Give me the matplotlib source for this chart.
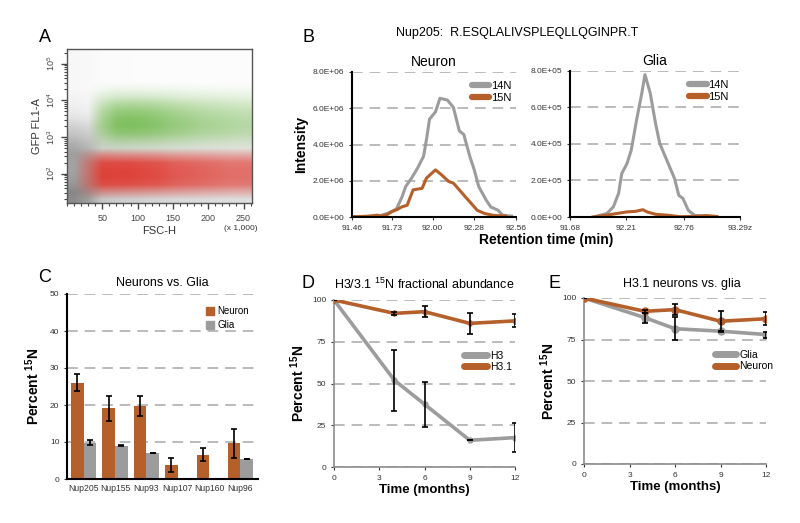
import numpy as np
import matplotlib.pyplot as plt
from matplotlib.lines import Line2D
from matplotlib.patches import Patch

plt.rcParams['font.family'] = ['Liberation Sans', 'DejaVu Sans']
plt.rcParams['mathtext.fontset'] = 'custom'
plt.rcParams['mathtext.rm'] = 'Liberation Sans'
plt.rcParams['mathtext.bf'] = 'Liberation Sans:bold'

ORANGE = '#b5602b'
GREY = '#9c9c9c'
GRIDC = '#a8a8a8'
TICKC = '#333333'

# ---------------- A: FACS density, profiles read per gate ----------------
fsc_centers = [10, 30, 50, 70, 90, 110, 130, 150, 170, 190, 210, 230, 250]
gfp_centers = [1.3, 1.5, 1.7, 1.9, 2.1, 2.3, 2.5, 2.7, 2.9, 3.1, 3.3,
               3.5, 3.7, 3.9, 4.1, 4.3, 4.5, 4.7, 4.9, 5.1, 5.3]
gray_fsc = [1.0, 0.75, 0.3, 0.25, 0.22, 0.2, 0.18, 0.16, 0.15, 0.14, 0.13, 0.12, 0.12]
gray_gfp = [0.95, 1.0, 0.8, 0.7, 0.65, 0.65, 0.7, 0.6, 0.45, 0.3, 0.2,
            0.1, 0.05, 0.03, 0.02, 0.01, 0.01, 0.01, 0.01, 0.01, 0.01]
red_fsc = [0.0, 0.35, 1.0, 1.0, 1.0, 0.95, 0.9, 0.8, 0.75, 0.7, 0.65, 0.6, 0.6]
red_gfp = [0.0, 0.25, 0.85, 1.0, 1.0, 0.9, 0.35, 0, 0, 0, 0,
           0, 0, 0, 0, 0, 0, 0, 0, 0, 0]
green_fsc = [0.0, 0.0, 0.5, 0.95, 1.0, 0.95, 0.85, 0.7, 0.6, 0.5, 0.45, 0.4, 0.35]
green_gfp = [0, 0, 0, 0, 0, 0, 0, 0.05, 0.3, 0.75, 1.0,
             0.95, 0.75, 0.45, 0.15, 0.03, 0, 0, 0, 0, 0]

# ---------------- B: extracted ion chromatograms ----------------
neuron_t14 = [91.46, 91.55, 91.65, 91.72, 91.76, 91.795, 91.82, 91.86, 91.90, 91.94,
              91.96, 91.98, 92.02, 92.05, 92.10, 92.14, 92.18, 92.21, 92.25, 92.28,
              92.31, 92.36, 92.39, 92.44, 92.47, 92.53]
neuron_14n = [0.0, 0.02, 0.08, 0.25, 0.47, 1.1, 1.68, 2.15, 2.7, 3.35,
              4.3, 5.4, 5.8, 6.55, 6.45, 6.05, 4.75, 4.55, 3.35, 2.6,
              1.68, 0.93, 0.56, 0.37, 0.1, 0.05]  # x1e6
neuron_t15 = [91.46, 91.52, 91.58, 91.63, 91.66, 91.70, 91.72, 91.76, 91.795, 91.83,
              91.87, 91.93, 91.96, 92.02, 92.06, 92.11, 92.14, 92.19, 92.24, 92.25,
              92.30, 92.35, 92.41, 92.49]
neuron_15n = [0.02, 0.03, 0.05, 0.1, 0.05, 0.15, 0.28, 0.4, 0.56, 0.65,
              1.5, 1.58, 2.15, 2.6, 2.33, 1.95, 1.87, 1.4, 0.93, 0.84,
              0.37, 0.19, 0.09, 0.05]  # x1e6
glia_t14 = [91.90, 92.03, 92.09, 92.14, 92.17, 92.22, 92.26, 92.31, 92.36, 92.39,
            92.44, 92.49, 92.53, 92.61, 92.67, 92.71, 92.75, 92.80, 92.86, 92.97, 93.07]
glia_14n = [0.0, 0.19, 0.55, 1.29, 2.38, 2.93, 3.66, 5.3, 6.78, 7.8,
            6.78, 5.13, 4.03, 2.93, 2.11, 1.19, 1.01, 0.37, 0.09, 0.02, 0.0]  # x1e5
glia_t15 = [91.90, 92.03, 92.12, 92.22, 92.30, 92.37, 92.41, 92.49, 92.60, 92.72,
            92.85, 92.97, 93.07]
glia_15n = [0.0, 0.1, 0.19, 0.28, 0.31, 0.4, 0.28, 0.15, 0.1, 0.02, 0.03, 0.08, 0.03]  # x1e5

neuron_xticks = [91.46, 91.73, 92.00, 92.28, 92.56]
glia_xticks = [91.68, 92.21, 92.76, 93.29]
glia_xlabels = ['91.68', '92.21', '92.76', '93.29z']

# ---------------- C: Nups, neurons vs glia ----------------
nups = ['Nup205', 'Nup155', 'Nup93', 'Nup107', 'Nup160', 'Nup96']
neuron_pct = [26.0, 19.1, 19.8, 3.8, 6.6, 9.6]
neuron_err = [2.3, 3.4, 2.7, 1.8, 1.7, 3.8]
glia_pct = [9.8, 9.0, 7.0, np.nan, np.nan, 5.4]
glia_err = [0.7, 0.15, 0.1, np.nan, np.nan, 0.1]

# ---------------- D / E: time courses ----------------
h31_months = [0, 4, 6, 9, 12]
h31_pct = [100, 92, 93, 86, 87.5]
h31_err = [0, 1.0, 3.2, 6.2, 3.9]
h3_months = [0, 4, 6, 9, 12]
h3_pct = [100, 52, 37.6, 16, 17.6]
h3_err = [0, 18.2, 13.5, 0, 8.7]
glia_months = [0, 4, 6, 9, 12]
glia_h31_pct = [100, 88.2, 81.5, 80, 78]
glia_h31_err = [0, 3.0, 7.0, 0, 1.8]

W, H = 800, 523
fig = plt.figure(figsize=(W / 100, H / 100), dpi=100)


def add_ax(x0, y0, x1, y1):
    return fig.add_axes([x0 / W, 1 - y1 / H, (x1 - x0) / W, (y1 - y0) / H])


def ftext(x, y, s, **kw):
    fig.text(x / W, 1 - y / H, s, **kw)


def style_plain(ax, spine_color='black', lw=1.5):
    for s in ['top', 'right']:
        ax.spines[s].set_visible(False)
    for s in ['left', 'bottom']:
        ax.spines[s].set_color(spine_color)
        ax.spines[s].set_linewidth(lw)
    ax.tick_params(labelsize=6, colors=TICKC, length=2, width=0.8)
    ax.yaxis.grid(True, color=GRIDC, ls=(0, (7, 4.5)), lw=1.1)
    ax.set_axisbelow(True)


# ---- panel A
axA = add_ax(67, 49, 252, 203)
dens = np.ones((len(gfp_centers), len(fsc_centers), 3))
layers = [(gray_gfp, gray_fsc, (0.48, 0.48, 0.48), 0.9),
          (red_gfp, red_fsc, (0.88, 0.12, 0.08), 0.8),
          (green_gfp, green_fsc, (0.38, 0.70, 0.22), 0.78)]
for gy, gx, col, amax in layers:
    d = np.outer(gy, gx)
    a = (np.clip(d, 0, 1) ** 0.6 * amax)[:, :, None]
    dens = dens * (1 - a) + np.array(col) * a
axA.imshow(dens, origin='lower', aspect='auto', interpolation='bilinear',
           extent=(0, 262, 1.2, 5.4))
axA.set_xlim(0, 262)
axA.set_ylim(1.2, 5.4)
axA.set_xticks([50, 100, 150, 200, 250])
axA.set_xticks(np.arange(0, 261, 10), minor=True)
axA.set_yticks([2, 3, 4, 5])
axA.set_yticklabels([r'$10^{%d}$' % k for k in [2, 3, 4, 5]], rotation=90, va='center')
yminor = [np.log10(m * 10.0 ** e) for e in range(1, 6) for m in range(2, 10)]
axA.set_yticks([v for v in yminor if 1.2 <= v <= 5.4], minor=True)
axA.tick_params(which='both', direction='out', labelsize=6.5, colors='#444444')
axA.tick_params(which='major', length=4, width=1)
axA.tick_params(which='minor', length=2.5, width=0.8)
axA.tick_params(axis='x', which='major', pad=4)
for s in axA.spines.values():
    s.set_color('#555555')
    s.set_linewidth(1)
axA.set_xlabel('FSC-H', fontsize=8, color='#333333', labelpad=2)
axA.set_ylabel('GFP FL1-A', fontsize=8, color='#333333', labelpad=2)
ftext(241, 229, '(x 1,000)', fontsize=6, color='#333333', ha='center', va='center')
ftext(45, 38, 'A', fontsize=13, va='center', ha='center')

# ---- panel B
ftext(308, 38, 'B', fontsize=13, va='center', ha='center')
ftext(517, 33, 'Nup205:  R.ESQLALIVSPLEQLLQGINPR.T', fontsize=9, ha='center', va='center')

axN = add_ax(352, 72, 516, 217)
axN.plot(neuron_t14, np.array(neuron_14n) * 1e6, color=GREY, lw=2.2)
axN.plot(neuron_t15, np.array(neuron_15n) * 1e6, color=ORANGE, lw=2.2)
axN.set_xlim(91.46, 92.56)
axN.set_ylim(0, 8e6)
axN.set_xticks(neuron_xticks)
axN.set_xticklabels(['%.2f' % v for v in neuron_xticks])
axN.set_yticks(np.arange(0, 8.1e6, 2e6))
axN.set_yticklabels(['{:.1E}'.format(v) for v in np.arange(0, 8.1e6, 2e6)])
style_plain(axN)
axN.set_ylabel('Intensity', fontsize=10, fontweight='bold', labelpad=3)
axN.set_title('Neuron', fontsize=10, pad=4)
h = [Line2D([0], [0], color=GREY, lw=4.5, solid_capstyle='round'),
     Line2D([0], [0], color=ORANGE, lw=4.5, solid_capstyle='round')]
axN.legend(h, ['14N', '15N'], loc='upper right', bbox_to_anchor=(1.02, 0.99), frameon=False,
           fontsize=8, handlelength=1.6, handletextpad=0.15, labelspacing=0.15, borderpad=0.2)

axG = add_ax(570, 71, 740, 217)
axG.plot(glia_t14, np.array(glia_14n) * 1e5, color=GREY, lw=2.2)
axG.plot(glia_t15, np.array(glia_15n) * 1e5, color=ORANGE, lw=2.2)
axG.set_xlim(91.68, 93.29)
axG.set_ylim(0, 8e5)
axG.set_xticks(glia_xticks)
axG.set_xticklabels(glia_xlabels)
axG.set_yticks(np.arange(0, 8.1e5, 2e5))
axG.set_yticklabels(['{:.1E}'.format(v) for v in np.arange(0, 8.1e5, 2e5)])
style_plain(axG)
axG.set_title('Glia', fontsize=10, pad=4)
axG.legend(h, ['14N', '15N'], loc='upper right', bbox_to_anchor=(0.98, 0.99), frameon=False,
           fontsize=8, handlelength=1.6, handletextpad=0.15, labelspacing=0.15, borderpad=0.2)
ftext(546, 240, 'Retention time (min)', fontsize=10, fontweight='bold', ha='center', va='center')

# ---- panel C
ftext(45, 278, 'C', fontsize=13, va='center', ha='center')
axC = add_ax(67, 294, 258, 479)
xc = np.arange(len(nups))
bw = 0.4
axC.bar(xc - bw / 2, neuron_pct, bw, color=ORANGE, label='Neuron',
        yerr=neuron_err, error_kw=dict(ecolor='black', elinewidth=1.2, capsize=2.5, capthick=1.2))
axC.bar(xc + bw / 2, glia_pct, bw, color=GREY, label='Glia',
        yerr=glia_err, error_kw=dict(ecolor='black', elinewidth=1.2, capsize=2.5, capthick=1.2))
axC.set_xlim(-0.53, 5.56)
axC.set_ylim(0, 50)
axC.set_yticks([0, 10, 20, 30, 40, 50])
axC.set_xticks(xc)
axC.set_xticklabels(nups)
style_plain(axC)
axC.tick_params(axis='x', labelsize=6.2, length=0)
axC.set_ylabel(r'Percent $^{\mathbf{15}}$N', fontsize=10, fontweight='bold', labelpad=6)
axC.set_title('Neurons vs. Glia', fontsize=9, pad=6)
axC.legend(handles=[Patch(color=ORANGE), Patch(color=GREY)], labels=['Neuron', 'Glia'],
           loc='upper right', bbox_to_anchor=(1.0, 0.98), frameon=False, fontsize=7,
           handlelength=0.8, handleheight=0.8, handletextpad=0.4, labelspacing=0.4)

ekw = dict(ecolor='black', elinewidth=1.2, capsize=2, capthick=1.2)

# ---- panel D
ftext(308, 283, 'D', fontsize=13, va='center', ha='center')
axD = add_ax(334, 300, 515, 467)
axD.plot(h3_months, h3_pct, color=GREY, lw=2.6, marker='o', ms=3.5, zorder=3)
axD.plot(h31_months, h31_pct, color=ORANGE, lw=2.6, marker='D', ms=3, zorder=3)
axD.errorbar(h3_months, h3_pct, yerr=h3_err, fmt='none', zorder=4, **ekw)
axD.errorbar(h31_months, h31_pct, yerr=h31_err, fmt='none', zorder=4, **ekw)
axD.set_xlim(0, 12)
axD.set_ylim(0, 100)
axD.set_xticks([0, 3, 6, 9, 12])
axD.set_yticks([0, 25, 50, 75, 100])
style_plain(axD, spine_color='#8c8c8c', lw=1.2)
axD.set_xlabel('Time (months)', fontsize=9.5, fontweight='bold', labelpad=2)
axD.set_ylabel(r'Percent $^{\mathbf{15}}$N', fontsize=10, fontweight='bold', labelpad=4)
ftext(424, 284, r'H3/3.1 $^{15}$N fractional abundance', fontsize=9, ha='center', va='center')
hD = [Line2D([0], [0], color=GREY, lw=5, solid_capstyle='round'),
      Line2D([0], [0], color=ORANGE, lw=5, solid_capstyle='round')]
axD.legend(hD, ['H3', 'H3.1'], loc='upper left', bbox_to_anchor=(0.68, 0.74), frameon=False,
           fontsize=7.5, handlelength=2.2, handletextpad=0.3, labelspacing=0.1, borderpad=0.2)

# ---- panel E
ftext(555, 283, 'E', fontsize=13, va='center', ha='center')
axE = add_ax(584, 298, 766, 464)
axE.plot(glia_months, glia_h31_pct, color=GREY, lw=2.6, marker='o', ms=5, zorder=3)
axE.plot(h31_months, h31_pct, color=ORANGE, lw=2.6, marker='o', ms=5, zorder=3)
axE.errorbar(glia_months, glia_h31_pct, yerr=glia_h31_err, fmt='none', zorder=4, **ekw)
axE.errorbar(h31_months, h31_pct, yerr=h31_err, fmt='none', zorder=4, **ekw)
axE.set_xlim(0, 12)
axE.set_ylim(0, 100)
axE.set_xticks([0, 3, 6, 9, 12])
axE.set_yticks([0, 25, 50, 75, 100])
style_plain(axE, spine_color='#8c8c8c', lw=1.2)
axE.set_xlabel('Time (months)', fontsize=9.5, fontweight='bold', labelpad=2)
axE.set_ylabel(r'Percent $^{\mathbf{15}}$N', fontsize=10, fontweight='bold', labelpad=4)
ftext(682, 284, 'H3.1 neurons vs. glia', fontsize=9, ha='center', va='center')
axE.legend(hD, ['Glia', 'Neuron'], loc='upper left', bbox_to_anchor=(0.68, 0.73), frameon=False,
           fontsize=7.5, handlelength=2.0, handletextpad=0.3, labelspacing=0.1, borderpad=0.2)

fig.savefig('out.png', dpi=100)
